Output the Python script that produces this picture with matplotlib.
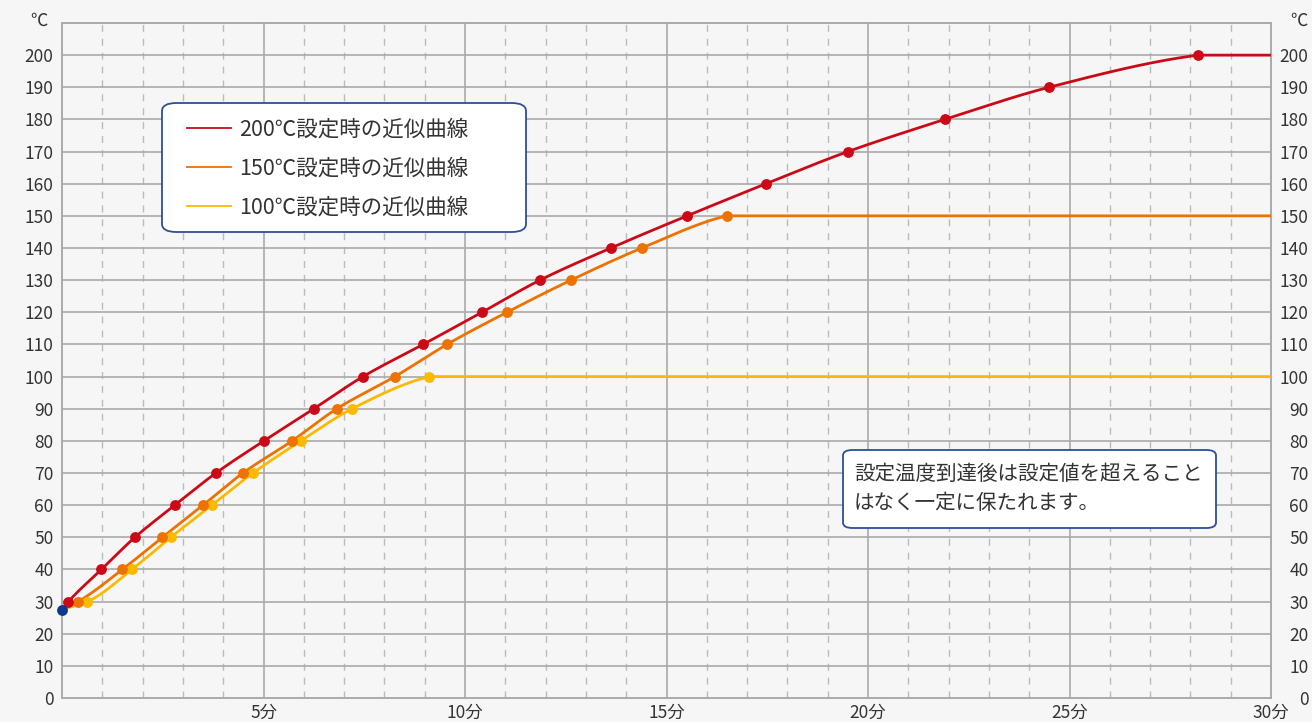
import numpy as np
import matplotlib.pyplot as plt
from matplotlib.lines import Line2D
from matplotlib.patches import FancyBboxPatch

plt.rcParams['font.family'] = ['Noto Sans CJK JP', 'DejaVu Sans']

# start point (minutes, ℃)
start_x = 0.0
start_y = 27.5

# measured points for each set temperature
red_x = [0.16, 0.98, 1.81, 2.80, 3.82, 5.01, 6.25, 7.47, 8.96, 10.42, 11.86,
         13.62, 15.51, 17.47, 19.50, 21.91, 24.49, 28.19]
red_y = [30, 40, 50, 60, 70, 80, 90, 100, 110, 120, 130, 140, 150, 160, 170, 180, 190, 200]

orange_x = [0.40, 1.50, 2.49, 3.50, 4.49, 5.71, 6.82, 8.26, 9.55, 11.04, 12.63, 14.39, 16.50]
orange_y = [30, 40, 50, 60, 70, 80, 90, 100, 110, 120, 130, 140, 150]

yellow_x = [0.63, 1.74, 2.70, 3.72, 4.74, 5.93, 7.20, 9.11]
yellow_y = [30, 40, 50, 60, 70, 80, 90, 100]

labels = ['200℃設定時の近似曲線', '150℃設定時の近似曲線', '100℃設定時の近似曲線']
note_lines = ['設定温度到達後は設定値を超えること', 'はなく一定に保たれます。']
x_ticks = [5, 10, 15, 20, 25, 30]
x_labels = ['5分', '10分', '15分', '20分', '25分', '30分']
y_ticks = list(range(0, 201, 10))

RED = '#cc0a17'
ORANGE = '#ee7200'
YELLOW = '#fbb900'
BLUE = '#0b3a8c'
GRID = '#aaaaaa'
FRAME = '#2c4f9a'
TEXT = '#333333'

W, H = 1312, 722
AX_L, AX_R, AX_T, AX_B = 62, 1271, 23, 698


# monotone cubic through the points (smooth drawing only)
def pchip(x, y, xs):
    x = np.asarray(x, float)
    y = np.asarray(y, float)
    h = np.diff(x)
    d = np.diff(y) / h
    m = np.zeros_like(x)
    for k in range(1, len(x) - 1):
        if d[k - 1] * d[k] > 0:
            w1 = 2 * h[k] + h[k - 1]
            w2 = h[k] + 2 * h[k - 1]
            m[k] = (w1 + w2) / (w1 / d[k - 1] + w2 / d[k])
    m[0] = d[0]
    m[-1] = 0.6 * d[-1]
    idx = np.clip(np.searchsorted(x, xs) - 1, 0, len(h) - 1)
    t = (xs - x[idx]) / h[idx]
    h00 = 2 * t**3 - 3 * t**2 + 1
    h10 = t**3 - 2 * t**2 + t
    h01 = -2 * t**3 + 3 * t**2
    h11 = t**3 - t**2
    return h00 * y[idx] + h10 * h[idx] * m[idx] + h01 * y[idx + 1] + h11 * h[idx] * m[idx + 1]


# pixel (from top-left) -> axes fraction
def ax_frac(px, py):
    return (px - AX_L) / (AX_R - AX_L), (AX_B - py) / (AX_B - AX_T)


fig = plt.figure(figsize=(W / 100, H / 100), dpi=100, facecolor='#f6f6f6')
ax = fig.add_axes([AX_L / W, 1 - AX_B / H, (AX_R - AX_L) / W, (AX_B - AX_T) / H])
ax.set_facecolor('#f6f6f6')
ax.set_xlim(0, 30)
ax.set_ylim(0, 210)

# grid
for xv in range(1, 30):
    if xv % 5 == 0:
        ax.axvline(xv, color=GRID, lw=1.2, zorder=1)
    else:
        ax.axvline(xv, color='#bbbbbb', lw=1.0, ls=(0, (5, 5)), zorder=1)
for yv in range(10, 210, 10):
    ax.axhline(yv, color=GRID, lw=1.2, zorder=1)

for s in ax.spines.values():
    s.set_color(GRID)
    s.set_linewidth(1.4)

series = [(red_x, red_y, RED), (orange_x, orange_y, ORANGE), (yellow_x, yellow_y, YELLOW)]
for i, (sx, sy, c) in enumerate(series[::-1]):
    px = [start_x] + sx
    py = [start_y] + sy
    xs = np.linspace(px[0], px[-1], 400)
    ys = pchip(px, py, xs)
    ax.plot(np.append(xs, 30), np.append(ys, py[-1]), color=c, lw=2, zorder=3 + i,
            solid_capstyle='butt')
    ax.plot(sx, sy, 'o', color=c, ms=7.8, mec='none', zorder=6 + i)

ax.plot([start_x], [start_y], 'o', color=BLUE, ms=7.8, mec='none', zorder=10, clip_on=False)

# ticks, left side and bottom
ax.set_xticks(x_ticks)
ax.set_xticklabels(x_labels)
ax.set_yticks(y_ticks)
ax.tick_params(axis='both', length=0, labelsize=12.5, colors=TEXT)
ax.tick_params(axis='x', pad=4)
ax.tick_params(axis='y', pad=6)

# right side labels, right-aligned like the reference
ax2 = ax.twinx()
ax2.set_ylim(ax.get_ylim())
ax2.set_yticks(y_ticks)
ax2.tick_params(axis='y', length=0, labelsize=12.5, colors=TEXT, pad=27)
for lbl in ax2.get_yticklabels():
    lbl.set_horizontalalignment('right')
for s in ax2.spines.values():
    s.set_visible(False)

fx, fy = ax_frac(48, 21)
ax.text(fx, fy, '℃', transform=ax.transAxes, ha='right', va='center', fontsize=12.5, color=TEXT)
fx, fy = ax_frac(1308, 21)
ax.text(fx, fy, '℃', transform=ax.transAxes, ha='right', va='center', fontsize=12.5, color=TEXT)

# legend frame and entries
lx0, ly0 = ax_frac(162, 232)
lx1, ly1 = ax_frac(526, 103)
ax2.add_patch(FancyBboxPatch((lx0, ly0), lx1 - lx0, ly1 - ly0, boxstyle='round,pad=0,rounding_size=0.012',
                             transform=ax.transAxes, fc='white', ec=FRAME, lw=1.3, zorder=20))
handles = [Line2D([], [], color=c, lw=1.3) for c in (RED, ORANGE, YELLOW)]
leg = ax2.legend(handles, labels, loc='upper left', bbox_to_anchor=ax_frac(187, 119),
                 borderaxespad=0, borderpad=0, frameon=False, fontsize=15.5,
                 handlelength=2.05, handletextpad=0.37, labelspacing=0.79)
for t in leg.get_texts():
    t.set_color(TEXT)
leg.set_zorder(21)

# note box
bx0, by0 = ax_frac(843, 528)
bx1, by1 = ax_frac(1216, 450)
ax2.add_patch(FancyBboxPatch((bx0, by0), bx1 - bx0, by1 - by0, boxstyle='round,pad=0,rounding_size=0.008',
                             transform=ax.transAxes, fc='white', ec=FRAME, lw=1.3, zorder=20))
for line, ypix in zip(note_lines, [474, 503]):
    tx, ty = ax_frac(854, ypix)
    ax2.text(tx, ty, line, transform=ax.transAxes, ha='left', va='center',
             fontsize=14.8, color=TEXT, zorder=21)

fig.savefig('out.png', dpi=100, facecolor=fig.get_facecolor())
